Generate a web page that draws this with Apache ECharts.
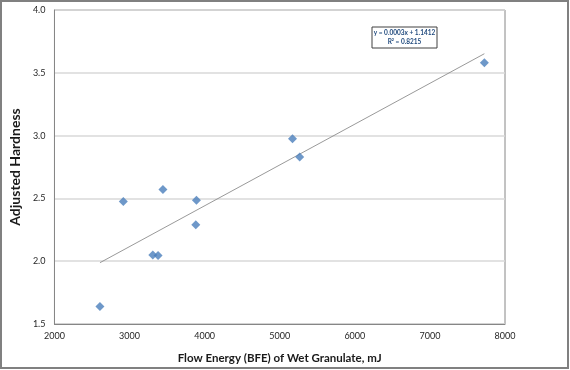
<!DOCTYPE html>
<html><head><meta charset="utf-8">
<script src="https://cdn.jsdelivr.net/npm/echarts@6/dist/echarts.min.js"></script>
<style>html,body{margin:0;padding:0;background:#fff}#c{width:570px;height:370px}</style>
</head><body><div id="c"></div>
<script>
const flowEnergy = [2606, 2917, 3310, 3380, 3445, 3891, 3882, 5170, 5266, 7725];
const hardness   = [1.64, 2.475, 2.05, 2.045, 2.57, 2.485, 2.29, 2.975, 2.83, 3.58];
const xTicks = [2000, 3000, 4000, 5000, 6000, 7000, 8000];
const yTicks = [1.5, 2.0, 2.5, 3.0, 3.5, 4.0];
const trendSlope = 0.000325, trendIntercept = 1.1412;
const eqText = ['y = 0.0003x + 1.1412', 'R² = 0.8215'];

const xMin = Math.min(...flowEnergy), xMax = Math.max(...flowEnergy);
const trend = [[xMin, trendSlope * xMin + trendIntercept], [xMax, trendSlope * xMax + trendIntercept]];
const points = flowEnergy.map((x, i) => [x, hardness[i]]);
const FF = 'Lato';

const chart = echarts.init(document.getElementById('c'));
chart.setOption({
  animation: false,
  textStyle: { fontFamily: FF },
  grid: { left: 47, right: 65, top: 10, bottom: 46, show: true, borderColor: '#868686', borderWidth: 1 },
  xAxis: {
    type: 'value', min: xTicks[0], max: xTicks[xTicks.length - 1], interval: 1000,
    axisLine: { lineStyle: { color: '#868686' } },
    axisTick: { show: false },
    splitLine: { show: false },
    axisLabel: { color: '#262626', fontSize: 9, margin: 8, formatter: v => String(v) },
    name: 'Flow Energy (BFE) of Wet Granulate, mJ', nameLocation: 'middle', nameGap: 28,
    nameTextStyle: { fontSize: 11.5, fontWeight: 'bold', color: '#1a1a1a', fontFamily: FF }
  },
  yAxis: {
    type: 'value', min: yTicks[0], max: yTicks[yTicks.length - 1], interval: 0.5,
    axisLine: { show: true, lineStyle: { color: '#868686' } },
    axisTick: { show: false },
    splitLine: { show: true, lineStyle: { color: '#d9d9d9', width: 1.5 } },
    axisLabel: { color: '#262626', fontSize: 9, margin: 9, formatter: v => v.toFixed(1) },
    name: 'Adjusted Hardness', nameLocation: 'middle', nameGap: 22,
    nameTextStyle: { fontSize: 14, fontWeight: 'bold', color: '#1a1a1a', fontFamily: FF }
  },
  graphic: [
    { type: 'rect', shape: { x: 1, y: 1, width: 567, height: 367 }, style: { fill: 'none', stroke: '#808080', lineWidth: 2 }, z: 100 },
    { type: 'rect', shape: { x: 372, y: 27, width: 65, height: 21 }, style: { fill: '#fff', stroke: '#404040', lineWidth: 1 }, z: 50 },
    { type: 'text', x: 404.5, y: 33, style: { text: eqText[0], fill: '#1F497D', font: 'bold 6.5px ' + FF, textAlign: 'center', textVerticalAlign: 'middle' }, z: 51 },
    { type: 'text', x: 404.5, y: 42, style: { text: eqText[1], fill: '#1F497D', font: 'bold 6.5px ' + FF, textAlign: 'center', textVerticalAlign: 'middle' }, z: 51 }
  ],
  series: [
    { type: 'line', data: trend, symbol: 'none', lineStyle: { color: '#7f7f7f', width: 0.8 }, z: 1 },
    { type: 'scatter', data: points, symbol: 'diamond', symbolSize: 9, itemStyle: { color: '#4A7EBB' }, z: 3 }
  ]
});
</script></body></html>
